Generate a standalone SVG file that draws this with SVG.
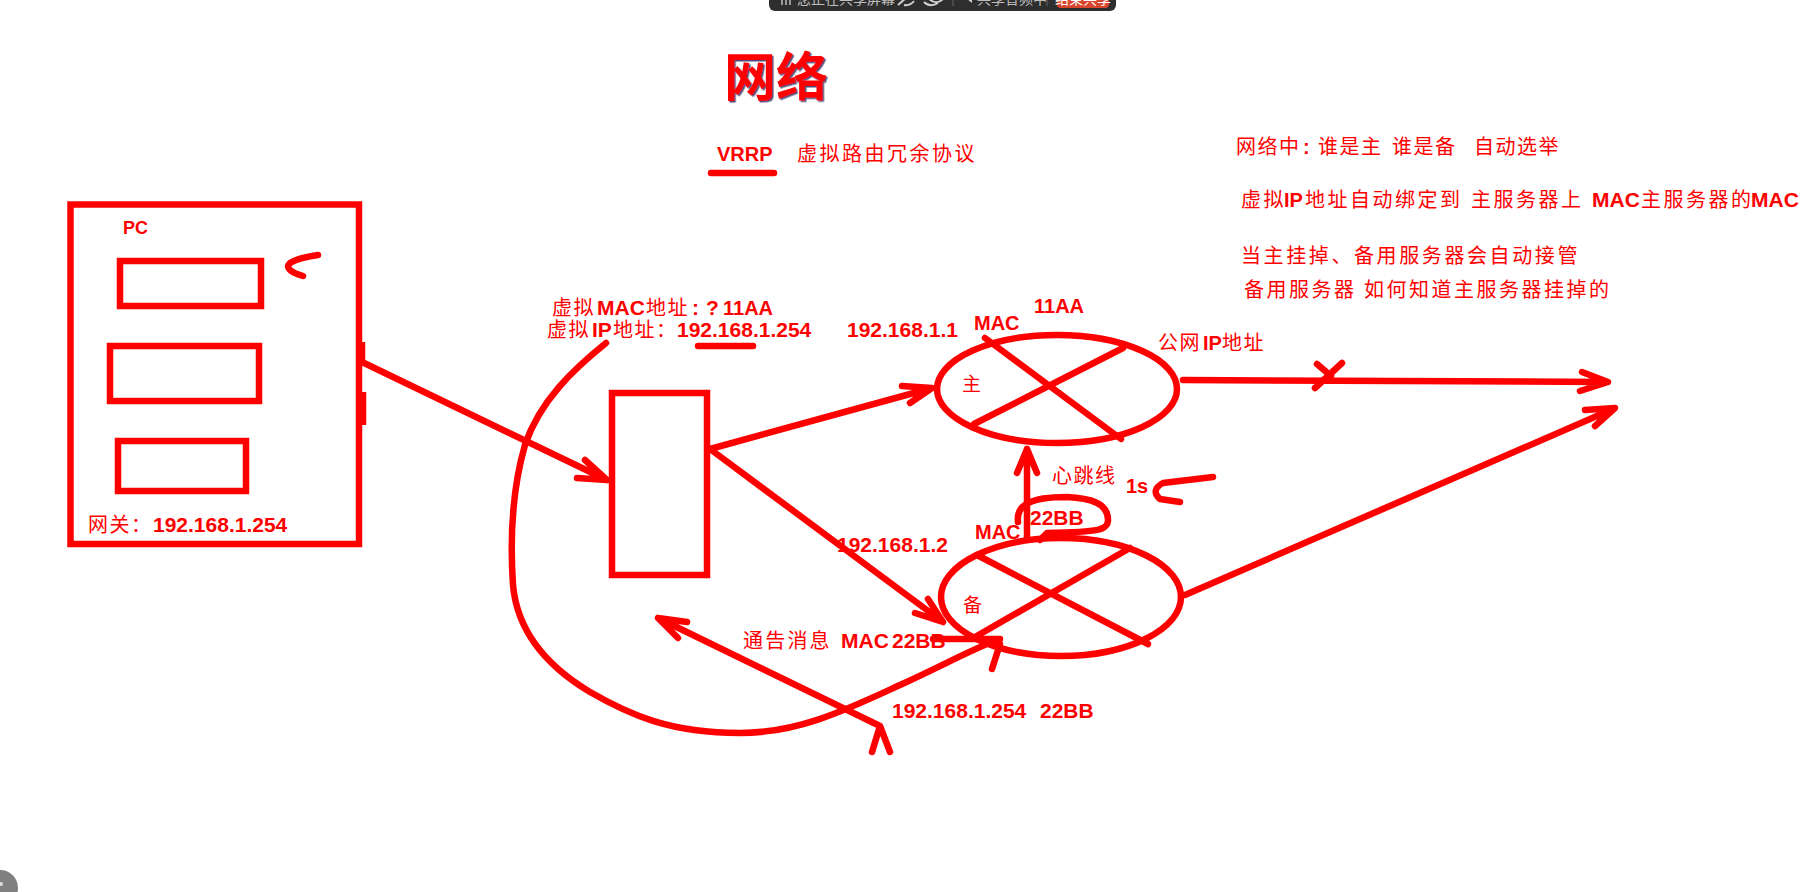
<svg xmlns="http://www.w3.org/2000/svg" width="1817" height="892" viewBox="0 0 1817 892">
<style>
.s{fill:none;stroke:#f00;stroke-width:6.5;stroke-linecap:round;stroke-linejoin:round}
.b{fill:none;stroke:#f00;stroke-width:6.5}
.cj{font-family:"Noto Sans CJK SC","Noto Sans CJK JP",sans-serif;font-weight:400;fill:#f00}
.lb{font-family:"Liberation Sans","Noto Sans CJK SC",sans-serif;font-weight:700;fill:#f00}
.tb{font-family:"Noto Sans CJK SC",sans-serif;font-size:14px;fill:#bdbdbd}
</style>
<defs>
<filter id="sh" x="-10%" y="-10%" width="130%" height="130%">
<feDropShadow dx="1.5" dy="1.5" stdDeviation="0" flood-color="#000040" flood-opacity="0.7"/>
</filter>
</defs>
<rect width="1817" height="892" fill="#fff"/>

<g id="toolbar">
<rect x="769" y="-12" width="347" height="23" rx="6" fill="#2e2e2e"/>
<path d="M782,-4 V5 M786,-4 V5 M790,-4 V5" stroke="#bdbdbd" stroke-width="1.5"/>
<text class="tb" x="797" y="4">您正在共享屏幕</text>
<path d="M887,-4 V6 M953,-4 V6 M1047,-4 V6" stroke="#666" stroke-width="1"/>
<path d="M898,5 L906,-2 M904,5 Q910,6 914,1 M924,2 Q930,8 938,3 M928,-2 Q936,6 943,-1" stroke="#d0d0d0" stroke-width="2" fill="none"/>
<path d="M961,-4 H967 L972,-8 V3 L967,-1 H961 Z" fill="#d0d0d0"/>
<text class="tb" x="977" y="4">共享音频中</text>
<rect x="1057" y="-10" width="52" height="18" rx="4" fill="#d9452c"/>
<text class="tb" x="1083" y="4" text-anchor="middle" font-size="13" style="fill:#fff">结束共享</text>
</g>

<g id="title">
<text class="cj" x="724" y="96" font-size="52" style="font-weight:700" filter="url(#sh)">网络</text>
<text class="lb" x="717" y="161" font-size="20">VRRP</text>
<path class="s" d="M711,173 L774,173"/>
<text class="cj" x="797" y="161" font-size="20" letter-spacing="2.5">虚拟路由冗余协议</text>
</g>

<g id="notes">
<text class="cj" y="154" font-size="20" letter-spacing="1.5"><tspan x="1236">网络中</tspan><tspan class="lb" x="1303">:</tspan><tspan x="1318">谁是主</tspan><tspan x="1392">谁是备</tspan><tspan x="1474">自动选举</tspan></text>
<text class="cj" y="207" font-size="20" letter-spacing="2.5"><tspan x="1241">虚拟</tspan><tspan class="lb" x="1284" letter-spacing="0">IP</tspan><tspan x="1305">地址自动绑定到</tspan><tspan x="1471">主服务器上</tspan><tspan class="lb" x="1592" font-size="21" letter-spacing="0">MAC</tspan><tspan x="1641">主服务器的</tspan><tspan class="lb" x="1751" font-size="21" letter-spacing="0">MAC</tspan></text>
<text class="cj" x="1241" y="263" font-size="20" letter-spacing="2.6">当主挂掉、备用服务器会自动接管</text>
<text class="cj" y="297" font-size="20" letter-spacing="2.5"><tspan x="1244">备用服务器</tspan><tspan x="1364">如何知道主服务器挂掉的</tspan></text>
</g>

<g id="pc">
<rect class="b" x="70.5" y="204.5" width="288.5" height="339.5"/>
<path class="b" d="M362,342 V362 M363,392 V425" stroke-width="4"/>
<rect class="b" x="120" y="261" width="141" height="45" stroke-width="6"/>
<rect class="b" x="110" y="346" width="149" height="55" stroke-width="6"/>
<rect class="b" x="118" y="441" width="128" height="50" stroke-width="6"/>
<text class="lb" x="123" y="234" font-size="18">PC</text>
<text class="cj" y="532" font-size="20" letter-spacing="1.5"><tspan x="88">网关：</tspan><tspan class="lb" x="153" font-size="21" letter-spacing="0">192.168.1.254</tspan></text>
<path class="s" d="M318,255 Q298,258 290,263 Q283,270 303,276"/>
</g>

<g id="vip">
<text class="cj" y="315" font-size="20" letter-spacing="1.5"><tspan x="552">虚拟</tspan><tspan class="lb" x="597" font-size="21" letter-spacing="0">MAC</tspan><tspan x="646">地址</tspan><tspan class="lb" x="692" font-size="21" letter-spacing="0">:</tspan><tspan class="lb" x="706" font-size="21" letter-spacing="0">?</tspan><tspan class="lb" x="723" font-size="20" letter-spacing="0">11AA</tspan></text>
<text class="cj" y="337" font-size="20" letter-spacing="1.5"><tspan x="547">虚拟</tspan><tspan class="lb" x="592" font-size="21" letter-spacing="0">IP</tspan><tspan x="613">地址：</tspan><tspan class="lb" x="677" font-size="21" letter-spacing="0">192.168.1.254</tspan></text>
<path class="s" d="M698,346 L753,346"/>
</g>

<g id="switch">
<rect class="b" x="612" y="393" width="95" height="182" stroke-width="6"/>
</g>

<g id="master">
<ellipse class="s" cx="1057" cy="389" rx="120" ry="54" stroke-width="7"/>
<path class="s" d="M985,338 L1121,439 M1123,348 L974,424"/>
<text class="lb" x="847" y="337" font-size="21">192.168.1.1</text>
<text class="lb" x="974" y="330" font-size="20">MAC</text>
<text class="lb" x="1034" y="313" font-size="20">11AA</text>
<text class="cj" y="350" font-size="20" letter-spacing="1.5"><tspan x="1158">公网</tspan><tspan class="lb" x="1203" letter-spacing="0">IP</tspan><tspan x="1222">地址</tspan></text>
<text class="cj" x="962" y="391" font-size="19">主</text>
</g>

<g id="backup">
<ellipse class="s" cx="1061" cy="597" rx="120" ry="59" stroke-width="7"/>
<path class="s" d="M977,555 L1148,644 M1130,548 L975,637"/>
<text class="lb" x="837" y="552" font-size="21">192.168.1.2</text>
<text class="lb" x="975" y="539" font-size="20">MAC</text>
<text class="lb" x="1030" y="525" font-size="21">22BB</text>
<text class="cj" x="963" y="612" font-size="19">备</text>
</g>

<g id="heartbeat">
<text class="cj" x="1052" y="483" font-size="20" letter-spacing="1.5">心跳线</text>
<text class="lb" x="1126" y="493" font-size="20">1s</text>
</g>

<g id="announce">
<text class="cj" y="648" font-size="20" letter-spacing="2.2"><tspan x="743">通告消息</tspan><tspan class="lb" x="841" font-size="21" letter-spacing="0">MAC</tspan><tspan class="lb" x="892" font-size="21" letter-spacing="0">22BB</tspan></text>
<text class="lb" y="718" font-size="21"><tspan x="892">192.168.1.254</tspan><tspan x="1040">22BB</tspan></text>
</g>

<g id="connectors">
<path class="s" d="M362,362 L607,480 M585,460 L607,480 L577,478"/>
<path class="s" d="M710,449 L932,388 M902,386 L932,388 L910,403"/>
<path class="s" d="M710,449 L943,622 M915,613 L943,622 L928,599"/>
<path class="s" d="M1183,380 L1606,382 M1582,372 L1608,382 L1580,391"/>
<path class="s" d="M1342,363 L1315,388 M1317,364 L1331,376"/>
<path class="s" d="M1185,595 L1613,409 M1585,410 L1615,408 L1595,426"/>
<path class="s" d="M1027,540 L1027,449 M1017,473 L1027,449 L1037,473"/>
<path class="s" d="M1018,522 C1016,505 1030,497 1067,497 C1090,498 1108,503 1108,520 C1108,530 1100,532 1047,533 L1040,540"/>
<path class="s" d="M1213,477 L1163,483 Q1150,490 1160,499 L1180,502"/>
<path class="s" d="M606,343 C575,368 540,400 525,445 C512,490 510,540 513,585 C517,630 545,665 590,692 C630,715 670,733 740,733 C800,733 850,708 900,685 C940,667 970,650 997,640"/>
<path class="s" d="M933,639 L1000,639 M992,669 L1000,644"/>
<path class="s" d="M880,726 L658,618 M687,622 L658,618 L678,638 M872,752 L880,726 L890,752"/>
</g>

<g id="corner">
<circle cx="0" cy="888" r="18" fill="#808080"/>
<circle cx="1" cy="884" r="2" fill="#ddd"/>
</g>
</svg>
